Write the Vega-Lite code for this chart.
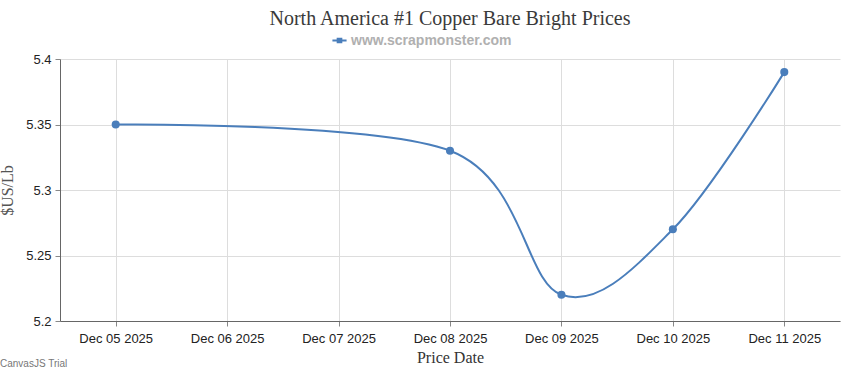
{
  "$schema": "https://vega.github.io/schema/vega-lite/v6.json",
  "autosize": "none",
  "width": 780,
  "height": 262,
  "padding": {"left": 60, "top": 59, "right": 10, "bottom": 49},
  "background": "white",
  "title": {
    "text": "North America #1 Copper Bare Bright Prices",
    "font": "Liberation Serif",
    "fontSize": 20,
    "fontWeight": "normal",
    "color": "#3a3a3a",
    "anchor": "middle",
    "offset": 4
  },
  "data": {
    "values": [
      {"date": "2025-12-05", "price": 5.35, "series": "www.scrapmonster.com"},
      {"date": "2025-12-08", "price": 5.33, "series": "www.scrapmonster.com"},
      {"date": "2025-12-09", "price": 5.22, "series": "www.scrapmonster.com"},
      {"date": "2025-12-10", "price": 5.27, "series": "www.scrapmonster.com"},
      {"date": "2025-12-11", "price": 5.39, "series": "www.scrapmonster.com"}
    ]
  },
  "encoding": {
    "x": {
      "field": "date",
      "type": "temporal",
      "scale": {
        "type": "utc",
        "domain": ["2025-12-04T12:00:00Z", "2025-12-11T12:00:00Z"]
      },
      "axis": {
        "title": "Price Date",
        "titleFont": "Liberation Serif",
        "titleFontSize": 16,
        "titleFontWeight": "normal",
        "titleColor": "#333333",
        "titlePadding": 4,
        "values": [
          "2025-12-05T00:00:00Z", "2025-12-06T00:00:00Z", "2025-12-07T00:00:00Z",
          "2025-12-08T00:00:00Z", "2025-12-09T00:00:00Z", "2025-12-10T00:00:00Z",
          "2025-12-11T00:00:00Z"
        ],
        "format": "%b %d %Y",
        "labelFont": "Liberation Sans Narrow, Liberation Sans, sans-serif",
        "labelFontSize": 13,
        "labelColor": "#222222",
        "labelPadding": 6,
        "tickSize": 5,
        "tickColor": "#888888",
        "domainColor": "#666666",
        "gridColor": "#dddddd",
        "grid": true
      }
    },
    "y": {
      "field": "price",
      "type": "quantitative",
      "scale": {"domain": [5.2, 5.4], "zero": false, "nice": false},
      "axis": {
        "title": "$US/Lb",
        "titleFont": "Liberation Serif",
        "titleFontSize": 16,
        "titleFontWeight": "normal",
        "titleColor": "#555555",
        "titlePadding": 10,
        "values": [5.2, 5.25, 5.3, 5.35, 5.4],
        "format": "~g",
        "labelFont": "Liberation Sans Narrow, Liberation Sans, sans-serif",
        "labelFontSize": 13,
        "labelColor": "#222222",
        "labelPadding": 4,
        "tickSize": 5,
        "tickColor": "#888888",
        "domainColor": "#666666",
        "gridColor": "#dddddd",
        "grid": true
      }
    }
  },
  "layer": [
    {
      "mark": {"type": "line", "interpolate": "cardinal", "strokeWidth": 2},
      "encoding": {
        "color": {
          "field": "series",
          "type": "nominal",
          "scale": {"range": ["#4a7ebb"]},
          "legend": {
            "title": null,
            "orient": "none",
            "legendX": 272,
            "legendY": -26,
            "labelLimit": 400,
            "symbolType": "M-1,-0.15L1,-0.15L1,0.15L-1,0.15Z M-0.4,-0.4L0.4,-0.4L0.4,0.4L-0.4,0.4Z",
            "symbolSize": 200,
            "symbolStrokeWidth": 0,
            "labelFont": "Liberation Sans, sans-serif",
            "labelFontSize": 14,
            "labelFontWeight": "bold",
            "labelColor": "#b0b0b0"
          }
        }
      }
    },
    {
      "mark": {"type": "point", "filled": true, "size": 65, "opacity": 1},
      "encoding": {
        "color": {"field": "series", "type": "nominal"}
      }
    },
    {
      "data": {"values": [{"note": "CanvasJS Trial", "date": "2025-12-04T12:00:00Z", "price": 5.2}]},
      "mark": {
        "type": "text",
        "align": "left",
        "baseline": "middle",
        "dx": -60,
        "dy": 43,
        "font": "Liberation Sans Narrow, Liberation Sans, sans-serif",
        "fontSize": 10,
        "color": "#777777"
      },
      "encoding": {
        "text": {"field": "note", "type": "nominal"}
      }
    }
  ],
  "config": {
    "view": {"stroke": null}
  }
}
